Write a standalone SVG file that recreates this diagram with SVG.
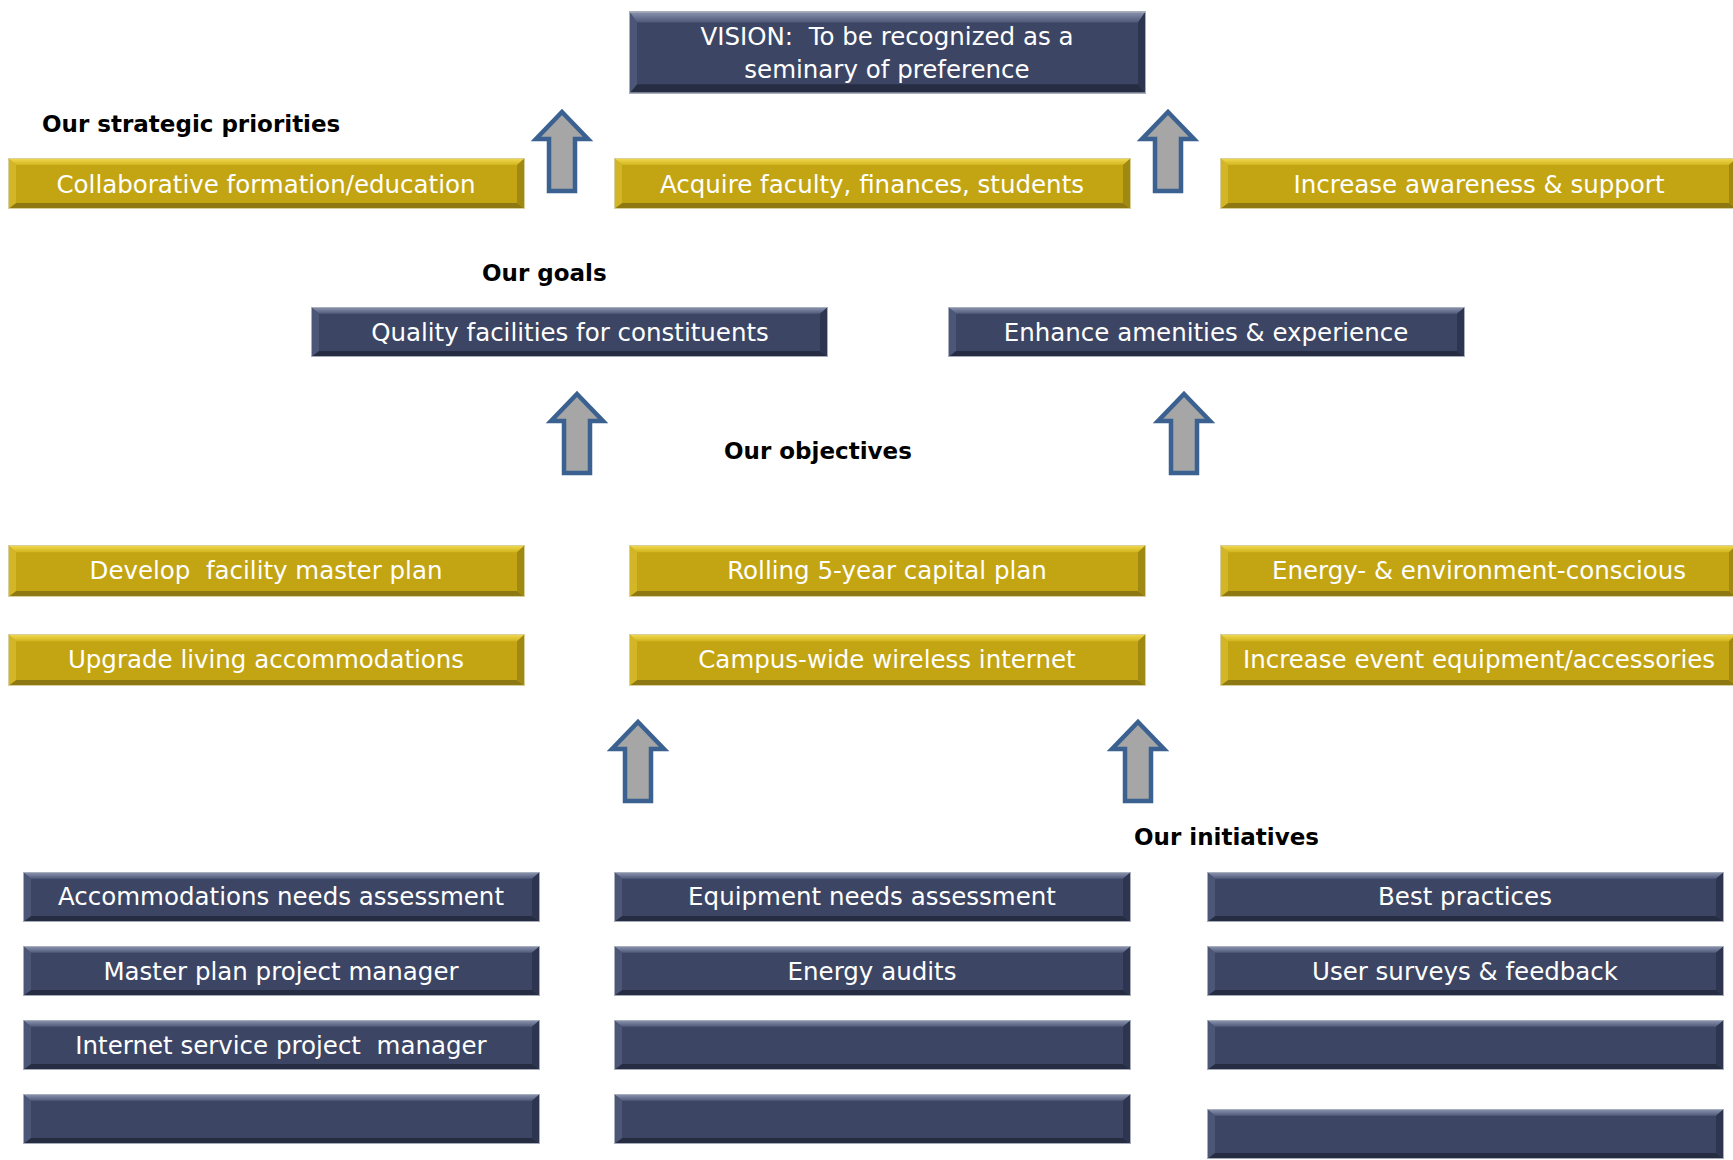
<svg xmlns="http://www.w3.org/2000/svg" xmlns:xlink="http://www.w3.org/1999/xlink" width="1733" height="1160" viewBox="0 0 1733 1160">
<style>
.bt{font-family:"DejaVu Sans","Verdana",sans-serif;font-size:24.5px;fill:#ffffff;text-anchor:middle;white-space:pre}
.lbl{font-family:"DejaVu Sans","Verdana",sans-serif;font-size:23px;font-weight:bold;fill:#000000}
.arr{fill:#a6a6a6;stroke:#3b6191;stroke-width:4.5;stroke-linejoin:miter}
</style>
<defs>
<linearGradient id="gTopG" x1="0" y1="0" x2="0" y2="1"><stop offset="0" stop-color="#f3dd55"/><stop offset="1" stop-color="#d2b51e"/></linearGradient>
<linearGradient id="gTopN" x1="0" y1="0" x2="0" y2="1"><stop offset="0" stop-color="#8f98b2"/><stop offset="1" stop-color="#4f5979"/></linearGradient>
<symbol id="gold" viewBox="0 0 517 51" preserveAspectRatio="none">
<rect x="0" y="0" width="517" height="51" fill="#c3a513"/>
<polygon points="0,0 517,0 509,7 8,7" fill="url(#gTopG)"/>
<polygon points="0,51 517,51 509,45 8,45" fill="#8d7812"/>
<polygon points="0,0 8,7 8,45 0,51" fill="#d3b627"/>
<polygon points="517,0 509,7 509,45 517,51" fill="#a08913"/>
<rect x="0.5" y="0.5" width="516" height="50" fill="none" stroke="#d9cf9a" stroke-width="1"/>
</symbol>
<symbol id="navy" viewBox="0 0 517 51" preserveAspectRatio="none">
<rect x="0" y="0" width="517" height="51" fill="#3c4664"/>
<polygon points="0,0 517,0 509,7 8,7" fill="url(#gTopN)"/>
<polygon points="0,51 517,51 509,45 8,45" fill="#262d43"/>
<polygon points="0,0 8,7 8,45 0,51" fill="#4c5676"/>
<polygon points="517,0 509,7 509,45 517,51" fill="#2d3550"/>
<rect x="0.5" y="0.5" width="516" height="50" fill="none" stroke="#a9aebb" stroke-width="1"/>
</symbol>
<path id="arrow" class="arr" d="M0,0 L26,27 L13,27 L13,79 L-13,79 L-13,27 L-26,27 Z"/>
</defs>
<rect x="0" y="0" width="1733" height="1160" fill="#ffffff"/>

<g id="vision"><use xlink:href="#navy" x="629" y="11" width="517" height="83"/>
<text class="bt" x="887" y="45">VISION:  To be recognized as a</text>
<text class="bt" x="887" y="78">seminary of preference</text></g>

<g id="labels">
<text class="lbl" x="42" y="132">Our strategic priorities</text>
<text class="lbl" x="482" y="281">Our goals</text>
<text class="lbl" x="724" y="459">Our objectives</text>
<text class="lbl" x="1134" y="845">Our initiatives</text>
</g>

<g id="p1"><use xlink:href="#gold" x="8" y="158" width="517" height="51"/><text class="bt" x="266" y="193">Collaborative formation/education</text></g>
<g id="p2"><use xlink:href="#gold" x="614" y="158" width="517" height="51"/><text class="bt" x="872" y="193">Acquire faculty, finances, students</text></g>
<g id="p3"><use xlink:href="#gold" x="1220" y="158" width="517" height="51"/><text class="bt" x="1479" y="193">Increase awareness &amp; support</text></g>

<g id="g1"><use xlink:href="#navy" x="311" y="307" width="517" height="50"/><text class="bt" x="570" y="341">Quality facilities for constituents</text></g>
<g id="g2"><use xlink:href="#navy" x="948" y="307" width="517" height="50"/><text class="bt" x="1206" y="341">Enhance amenities &amp; experience</text></g>

<g id="o1"><use xlink:href="#gold" x="8" y="545" width="517" height="52"/><text class="bt" x="266" y="579">Develop  facility master plan</text></g>
<g id="o2"><use xlink:href="#gold" x="629" y="545" width="517" height="52"/><text class="bt" x="887" y="579">Rolling 5-year capital plan</text></g>
<g id="o3"><use xlink:href="#gold" x="1220" y="545" width="517" height="52"/><text class="bt" x="1479" y="579">Energy- &amp; environment-conscious</text></g>
<g id="o4"><use xlink:href="#gold" x="8" y="634" width="517" height="52"/><text class="bt" x="266" y="668">Upgrade living accommodations</text></g>
<g id="o5"><use xlink:href="#gold" x="629" y="634" width="517" height="52"/><text class="bt" x="887" y="668">Campus-wide wireless internet</text></g>
<g id="o6"><use xlink:href="#gold" x="1220" y="634" width="517" height="52"/><text class="bt" x="1479" y="668">Increase event equipment/accessories</text></g>

<g id="i1"><use xlink:href="#navy" x="23" y="872" width="517" height="50"/><text class="bt" x="281" y="905">Accommodations needs assessment</text></g>
<g id="i2"><use xlink:href="#navy" x="23" y="946" width="517" height="50"/><text class="bt" x="281" y="980">Master plan project manager</text></g>
<g id="i3"><use xlink:href="#navy" x="23" y="1020" width="517" height="50"/><text class="bt" x="281" y="1054">Internet service project  manager</text></g>
<g id="i4"><use xlink:href="#navy" x="23" y="1094" width="517" height="50"/></g>
<g id="i5"><use xlink:href="#navy" x="614" y="872" width="517" height="50"/><text class="bt" x="872" y="905">Equipment needs assessment</text></g>
<g id="i6"><use xlink:href="#navy" x="614" y="946" width="517" height="50"/><text class="bt" x="872" y="980">Energy audits</text></g>
<g id="i7"><use xlink:href="#navy" x="614" y="1020" width="517" height="50"/></g>
<g id="i8"><use xlink:href="#navy" x="614" y="1094" width="517" height="50"/></g>
<g id="i9"><use xlink:href="#navy" x="1207" y="872" width="517" height="50"/><text class="bt" x="1465" y="905">Best practices</text></g>
<g id="i10"><use xlink:href="#navy" x="1207" y="946" width="517" height="50"/><text class="bt" x="1465" y="980">User surveys &amp; feedback</text></g>
<g id="i11"><use xlink:href="#navy" x="1207" y="1020" width="517" height="50"/></g>
<g id="i12"><use xlink:href="#navy" x="1207" y="1109" width="517" height="50"/></g>

<g id="connectors">
<use xlink:href="#arrow" x="562" y="112"/>
<use xlink:href="#arrow" x="1168" y="112"/>
<use xlink:href="#arrow" x="577" y="394"/>
<use xlink:href="#arrow" x="1184" y="394"/>
<use xlink:href="#arrow" x="638" y="722"/>
<use xlink:href="#arrow" x="1138" y="722"/>
</g>
</svg>
